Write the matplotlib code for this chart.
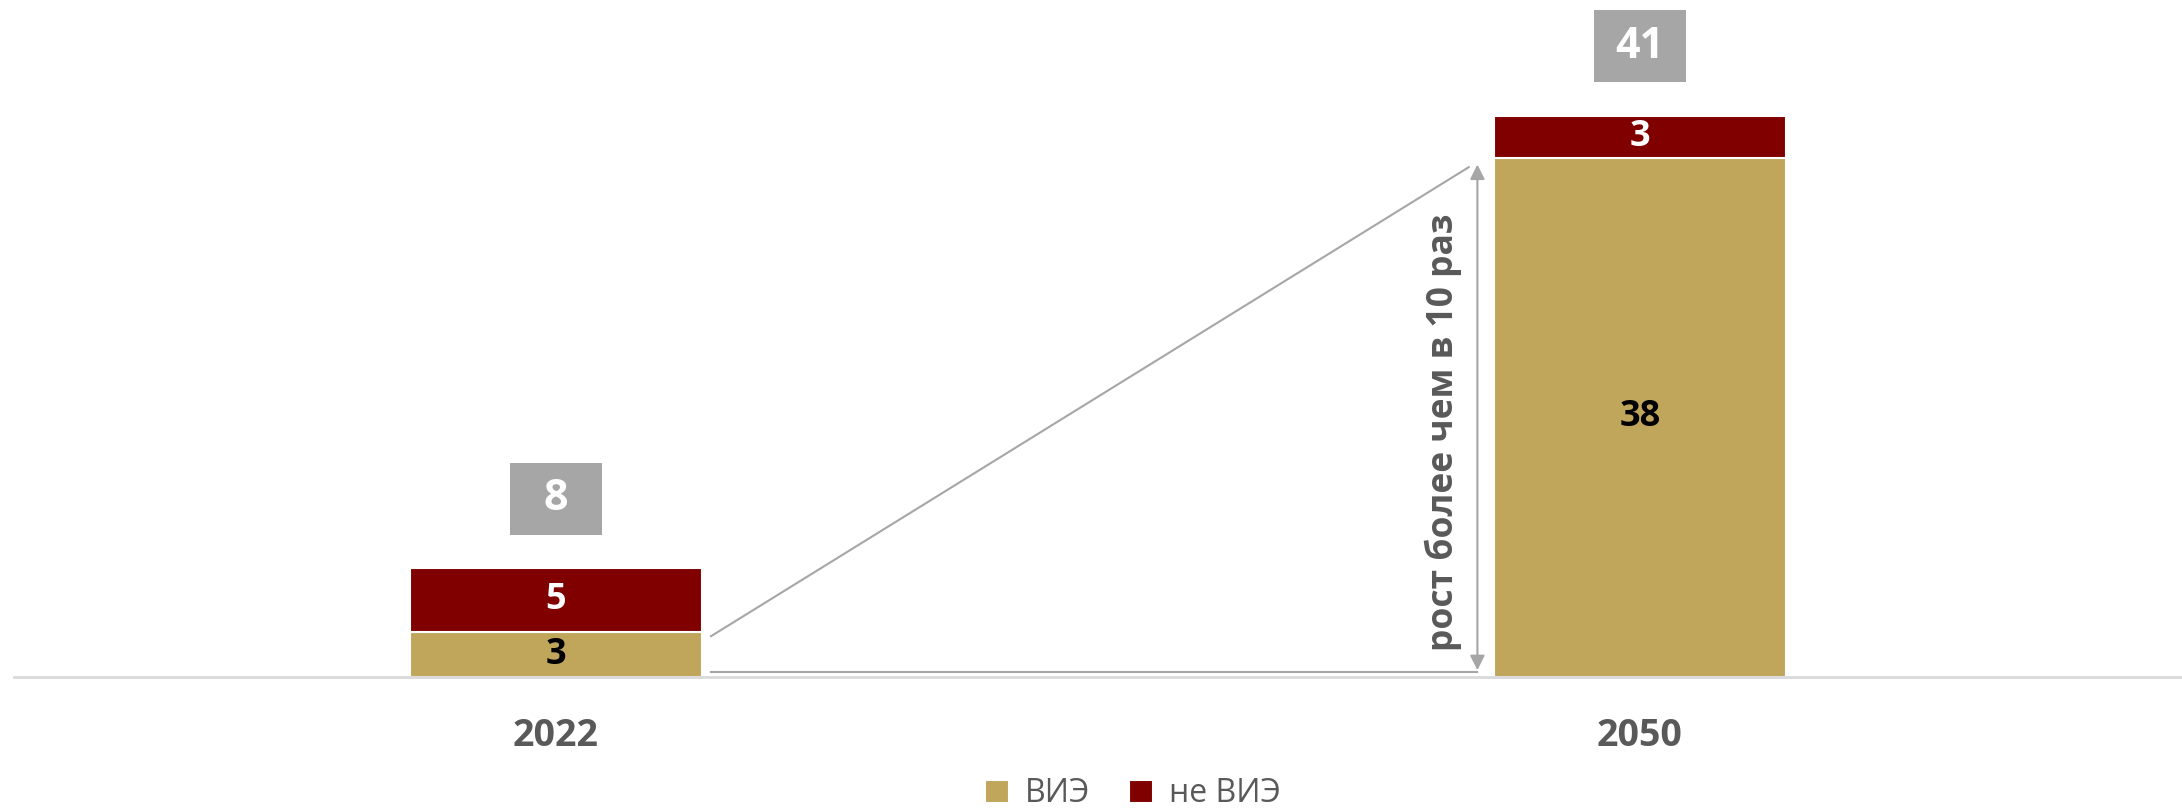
import matplotlib.pyplot as plt
from matplotlib.patches import Rectangle

plt.rcParams['font.family'] = ['Open Sans', 'DejaVu Sans']

# Data
years = ["2022", "2050"]
vie = [3.3, 38.2]       # ВИЭ
non_vie = [4.7, 3.1]    # не ВИЭ
totals = [8, 41]
series_names = ["ВИЭ", "не ВИЭ"]
note = "рост более чем в 10 раз"

gold = "#bfa65a"
dark_red = "#800000"
grey = "#a6a6a6"
text_grey = "#595959"

fig = plt.figure(figsize=(21.82, 8.11), dpi=100)
ax = fig.add_axes([14 / 2182, (811 - 677) / 811, 1 - 14 / 2182, 677 / 811])

x = list(range(len(years)))
w = 0.27
b1 = ax.bar(x, vie, w, color=gold, edgecolor="white", linewidth=1.5, label=series_names[0])
b2 = ax.bar(x, non_vie, w, bottom=vie, color=dark_red, edgecolor="white", linewidth=1.5,
            label=series_names[1])

# Labels inside the bars
for i in x:
    ax.text(i, vie[i] / 2, f"{round(vie[i])}", ha="center", va="center",
            fontsize=26, fontweight="bold", color="black")
    ax.text(i, vie[i] + non_vie[i] / 2, f"{round(non_vie[i])}", ha="center", va="center",
            fontsize=26, fontweight="bold", color="white")

# Total boxes above the bars
box_w, box_h, gap = 0.084, 5.3, 5.1
for i in x:
    top = vie[i] + non_vie[i]
    cy = top + gap
    ax.add_patch(Rectangle((i - box_w / 2, cy - box_h / 2), box_w, box_h,
                           facecolor=grey, edgecolor="none"))
    ax.text(i, cy, str(totals[i]), ha="center", va="center",
            fontsize=31, fontweight="bold", color="white")

# Connector lines and growth arrow
x0 = x[0] + w / 2 + 0.008
x1 = x[1] - w / 2 - 0.023
ax.plot([x0, x1], [vie[0] - 0.3, vie[1] - 0.7], color=grey, lw=1.5)
ax.plot([x0, x1 + 0.008], [0.37, 0.37], color=grey, lw=1.5)
ax.annotate("", xy=(x1 + 0.008, 37.7), xytext=(x1 + 0.008, 0.5),
            arrowprops=dict(arrowstyle="<|-|>", color=grey, lw=1.5,
                            mutation_scale=22, shrinkA=0, shrinkB=0))
ax.text(x1 - 0.023, (37.7 + 0.5) / 2 - 1.1, note, rotation=90, ha="center", va="center",
        fontsize=25.5, fontweight="bold", color=text_grey)

ax.set_xlim(-0.5, 1.5)
ax.set_ylim(0, 49.8)
ax.set_xticks(x)
ax.set_xticklabels(years, fontsize=27, fontweight="bold", color=text_grey)
ax.tick_params(axis="x", length=0, pad=29)
ax.set_yticks([])
for s in ["top", "right", "left"]:
    ax.spines[s].set_visible(False)
ax.spines["bottom"].set_color("#d9d9d9")
ax.spines["bottom"].set_linewidth(2)

fig.legend(handles=[b1, b2], labels=series_names, loc="center",
           bbox_to_anchor=(1133 / 2182, 1 - 794 / 811), ncol=2, frameon=False,
           fontsize=23, labelcolor=text_grey, handlelength=0.75, handleheight=0.75,
           handletextpad=0.5, columnspacing=1.2, borderpad=0.1)

fig.savefig("out.png", dpi=100)
